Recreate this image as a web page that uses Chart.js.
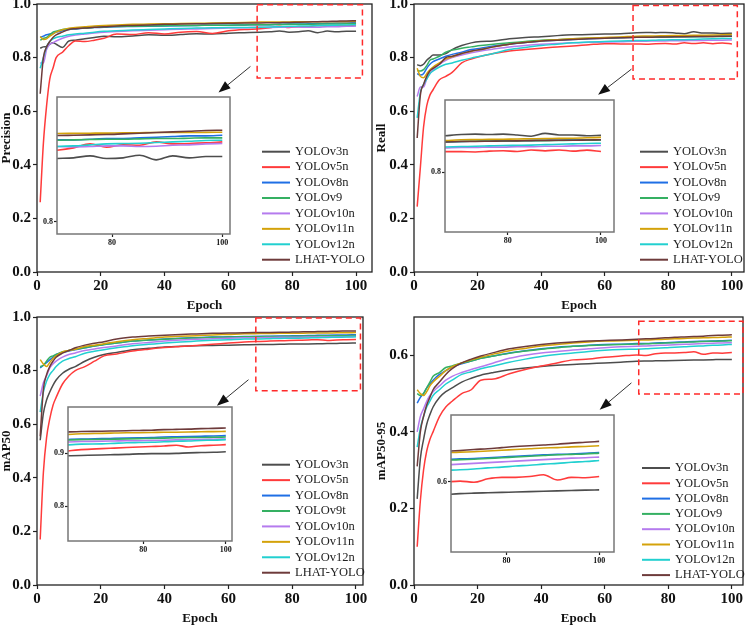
<!DOCTYPE html>
<html>
<head>
<meta charset="utf-8">
<script src="https://cdn.jsdelivr.net/npm/chart.js@4.4.1/dist/chart.umd.min.js"></script>
<style>
  html, body { margin: 0; padding: 0; background: #fff; }
  #wrap { position: relative; width: 750px; height: 626px; overflow: hidden; background: #fff; }
  #wrap canvas { position: absolute; }
</style>
</head>
<body>
<div id="wrap"></div>
<script>
const epochs = [1,2,3,4,5,6,8,10,12,15,18,21,25,30,35,40,45,50,55,60,65,70,73,76,79,82,85,88,91,94,97,100];

const labelsA = ['YOLOv3n','YOLOv5n','YOLOv8n','YOLOv9','YOLOv10n','YOLOv11n','YOLOv12n','LHAT-YOLO'];
const labelsB = ['YOLOv3n','YOLOv5n','YOLOv8n','YOLOv9t','YOLOv10n','YOLOv11n','YOLOv12n','LHAT-YOLO'];
const colors = ['#4d4d4d','#ff3b3b','#1f6fe5','#35b062','#b57bee','#d4a20a','#22d0d0','#6e3b3b'];

const xTicks = [0,20,40,60,80,100];
const yTicksFull = [0,0.2,0.4,0.6,0.8,1.0];
const yTicksLow = [0,0.2,0.4,0.6];
const insetXTicks = [80,100];

// Precision
const precV3n  = [0.835,0.840,0.842,0.850,0.855,0.850,0.838,0.862,0.865,0.870,0.875,0.880,0.878,0.881,0.885,0.883,0.886,0.889,0.888,0.891,0.893,0.895,0.896,0.899,0.895,0.896,0.900,0.893,0.899,0.896,0.898,0.898];
const precV5n  = [0.260,0.480,0.620,0.720,0.760,0.800,0.820,0.845,0.862,0.860,0.865,0.872,0.888,0.886,0.893,0.888,0.895,0.897,0.890,0.900,0.905,0.9075,0.911,0.917,0.912,0.9155,0.915,0.920,0.917,0.9175,0.9185,0.920];
const precV8n  = [0.875,0.880,0.885,0.888,0.890,0.895,0.900,0.905,0.907,0.910,0.912,0.913,0.915,0.916,0.917,0.918,0.919,0.920,0.921,0.921,0.922,0.923,0.923,0.924,0.925,0.925,0.926,0.927,0.928,0.929,0.929,0.930];
const precV9   = [0.865,0.872,0.875,0.885,0.895,0.898,0.905,0.907,0.909,0.910,0.913,0.915,0.916,0.917,0.918,0.919,0.920,0.920,0.921,0.921,0.922,0.9225,0.923,0.9235,0.924,0.924,0.9245,0.925,0.925,0.9255,0.926,0.926];
const precV10n = [0.780,0.780,0.830,0.850,0.855,0.862,0.872,0.880,0.884,0.888,0.892,0.895,0.897,0.900,0.902,0.904,0.906,0.907,0.909,0.910,0.911,0.913,0.9125,0.913,0.914,0.914,0.913,0.9135,0.915,0.9155,0.917,0.9175];
const precV11n = [0.879,0.868,0.870,0.880,0.888,0.895,0.904,0.910,0.912,0.915,0.918,0.920,0.922,0.924,0.925,0.926,0.927,0.928,0.929,0.930,0.931,0.9325,0.9328,0.933,0.9332,0.9335,0.9337,0.934,0.934,0.934,0.9342,0.9345];
const precV12n = [0.760,0.800,0.840,0.860,0.870,0.875,0.880,0.885,0.888,0.891,0.895,0.898,0.900,0.903,0.905,0.907,0.909,0.910,0.911,0.912,0.912,0.913,0.914,0.9155,0.917,0.9175,0.918,0.919,0.920,0.921,0.922,0.9225];
const precLhat = [0.665,0.800,0.840,0.860,0.875,0.885,0.895,0.905,0.908,0.910,0.913,0.915,0.918,0.920,0.922,0.924,0.925,0.926,0.927,0.928,0.929,0.9295,0.930,0.9305,0.931,0.932,0.933,0.934,0.935,0.936,0.937,0.9375];

// Recall
const recV3n  = [0.773,0.770,0.775,0.790,0.800,0.810,0.810,0.815,0.830,0.845,0.855,0.860,0.862,0.870,0.875,0.878,0.882,0.885,0.886,0.888,0.889,0.893,0.894,0.893,0.894,0.892,0.889,0.896,0.892,0.892,0.890,0.891];
const recV5n  = [0.244,0.390,0.540,0.620,0.660,0.680,0.717,0.730,0.745,0.780,0.795,0.805,0.815,0.825,0.830,0.835,0.840,0.843,0.848,0.852,0.851,0.8507,0.850,0.852,0.853,0.851,0.855,0.8527,0.855,0.852,0.8545,0.851];
const recV8n  = [0.740,0.735,0.740,0.760,0.775,0.785,0.795,0.805,0.812,0.820,0.830,0.835,0.843,0.850,0.856,0.862,0.865,0.868,0.870,0.872,0.874,0.876,0.8765,0.877,0.8775,0.878,0.8785,0.879,0.879,0.8795,0.880,0.880];
const recV9   = [0.752,0.750,0.755,0.770,0.790,0.795,0.805,0.820,0.828,0.835,0.840,0.845,0.850,0.855,0.860,0.865,0.867,0.870,0.872,0.873,0.875,0.876,0.8765,0.877,0.877,0.8775,0.878,0.878,0.8785,0.879,0.879,0.8795];
const recV10n = [0.655,0.690,0.690,0.720,0.740,0.755,0.775,0.790,0.800,0.810,0.818,0.825,0.832,0.840,0.845,0.850,0.853,0.855,0.857,0.858,0.859,0.861,0.861,0.862,0.862,0.863,0.863,0.864,0.864,0.865,0.865,0.866];
const recV11n = [0.760,0.730,0.725,0.740,0.755,0.765,0.780,0.795,0.803,0.815,0.823,0.830,0.840,0.850,0.857,0.863,0.867,0.870,0.873,0.875,0.877,0.880,0.8805,0.881,0.8815,0.882,0.8825,0.883,0.8835,0.884,0.885,0.886];
const recV12n = [0.575,0.670,0.700,0.720,0.740,0.750,0.765,0.775,0.780,0.790,0.798,0.805,0.815,0.830,0.838,0.845,0.850,0.855,0.858,0.860,0.862,0.8634,0.864,0.865,0.866,0.8665,0.867,0.868,0.869,0.870,0.871,0.8716];
const recLhat = [0.500,0.660,0.700,0.730,0.750,0.760,0.775,0.800,0.805,0.815,0.825,0.830,0.840,0.850,0.856,0.862,0.865,0.868,0.870,0.872,0.874,0.8757,0.876,0.8765,0.877,0.8775,0.878,0.8785,0.879,0.879,0.8795,0.880];

// mAP50
const mapV3n  = [0.540,0.640,0.690,0.720,0.745,0.765,0.790,0.805,0.815,0.835,0.850,0.860,0.868,0.878,0.883,0.888,0.891,0.893,0.894,0.895,0.896,0.897,0.8975,0.898,0.899,0.8995,0.8995,0.900,0.901,0.9015,0.902,0.903];
const mapV5n  = [0.170,0.420,0.550,0.620,0.670,0.700,0.750,0.780,0.800,0.815,0.835,0.855,0.862,0.873,0.880,0.886,0.890,0.894,0.898,0.903,0.907,0.909,0.910,0.911,0.912,0.913,0.914,0.9155,0.912,0.9145,0.9155,0.9165];
const mapV8n  = [0.810,0.820,0.830,0.840,0.850,0.860,0.868,0.873,0.878,0.885,0.892,0.897,0.903,0.910,0.914,0.918,0.921,0.923,0.925,0.926,0.927,0.928,0.9285,0.929,0.9295,0.930,0.931,0.9315,0.932,0.9325,0.933,0.9336];
const mapV9   = [0.815,0.820,0.835,0.850,0.855,0.860,0.870,0.875,0.880,0.885,0.892,0.897,0.903,0.910,0.914,0.917,0.920,0.922,0.924,0.925,0.926,0.9265,0.927,0.9275,0.928,0.9285,0.929,0.9295,0.930,0.930,0.9305,0.9311];
const mapV10n = [0.705,0.755,0.780,0.810,0.825,0.835,0.850,0.860,0.866,0.875,0.881,0.886,0.892,0.900,0.905,0.910,0.914,0.917,0.919,0.921,0.9225,0.923,0.9235,0.924,0.924,0.9245,0.925,0.9255,0.926,0.9262,0.9267,0.9273];
const mapV11n = [0.841,0.825,0.815,0.830,0.845,0.855,0.870,0.875,0.880,0.890,0.895,0.900,0.908,0.915,0.920,0.925,0.928,0.930,0.933,0.935,0.9372,0.938,0.9385,0.939,0.9392,0.9395,0.940,0.9402,0.9405,0.941,0.9413,0.9417];
const mapV12n = [0.645,0.720,0.760,0.785,0.800,0.815,0.835,0.845,0.852,0.865,0.872,0.878,0.885,0.893,0.898,0.903,0.907,0.910,0.913,0.915,0.9175,0.918,0.919,0.920,0.9205,0.921,0.922,0.923,0.9235,0.9245,0.925,0.926];
const mapLhat = [0.555,0.730,0.785,0.815,0.835,0.850,0.865,0.875,0.885,0.895,0.902,0.908,0.918,0.925,0.929,0.932,0.935,0.937,0.939,0.940,0.9415,0.942,0.9425,0.943,0.9435,0.944,0.945,0.9455,0.946,0.947,0.9475,0.9482];

// mAP50-95
const mapbV3n  = [0.225,0.330,0.380,0.420,0.445,0.465,0.490,0.505,0.515,0.530,0.540,0.548,0.555,0.562,0.567,0.571,0.574,0.576,0.578,0.580,0.582,0.5843,0.585,0.5855,0.586,0.5865,0.587,0.5875,0.588,0.5885,0.589,0.5893];
const mapbV5n  = [0.100,0.220,0.300,0.350,0.380,0.400,0.440,0.465,0.480,0.500,0.510,0.535,0.538,0.552,0.563,0.572,0.580,0.588,0.590,0.595,0.598,0.601,0.5995,0.604,0.606,0.606,0.607,0.6095,0.6025,0.606,0.6055,0.607];
const mapbV8n  = [0.475,0.490,0.500,0.515,0.525,0.535,0.550,0.560,0.570,0.578,0.585,0.592,0.598,0.606,0.612,0.617,0.621,0.6235,0.626,0.628,0.629,0.6305,0.631,0.632,0.633,0.634,0.635,0.636,0.6365,0.637,0.638,0.639];
const mapbV9   = [0.500,0.495,0.500,0.515,0.530,0.545,0.555,0.568,0.572,0.580,0.585,0.592,0.598,0.605,0.611,0.616,0.620,0.6235,0.6255,0.627,0.628,0.6295,0.630,0.631,0.632,0.633,0.634,0.635,0.636,0.6365,0.637,0.6382];
const mapbV10n = [0.400,0.440,0.460,0.480,0.495,0.505,0.520,0.535,0.545,0.555,0.563,0.570,0.580,0.592,0.600,0.606,0.610,0.614,0.617,0.620,0.622,0.6235,0.6245,0.6255,0.6265,0.6275,0.6285,0.6295,0.6305,0.6315,0.632,0.6329];
const mapbV11n = [0.510,0.500,0.495,0.505,0.520,0.530,0.545,0.560,0.570,0.580,0.588,0.595,0.603,0.612,0.618,0.624,0.628,0.632,0.635,0.637,0.638,0.6395,0.640,0.641,0.642,0.643,0.644,0.645,0.6455,0.6465,0.647,0.648];
const mapbV12n = [0.360,0.410,0.440,0.465,0.480,0.495,0.510,0.525,0.535,0.550,0.557,0.565,0.572,0.582,0.590,0.597,0.602,0.606,0.610,0.613,0.615,0.616,0.617,0.6185,0.6195,0.621,0.622,0.6235,0.6245,0.626,0.627,0.6284];
const mapbLhat = [0.310,0.400,0.440,0.470,0.490,0.510,0.530,0.550,0.565,0.580,0.590,0.598,0.607,0.617,0.623,0.628,0.632,0.635,0.637,0.6385,0.640,0.6417,0.643,0.644,0.6455,0.647,0.648,0.649,0.650,0.6515,0.6525,0.6537];

const SERIF = '"Liberation Serif", "Times New Roman", serif';
const PAD = 16;
const wrap = document.getElementById('wrap');

const panels = [
  { title: 'Precision', labels: labelsA, yMax: 1, yTicks: yTicksFull, xMax: 105,
    series: [precV3n, precV5n, precV8n, precV9, precV10n, precV11n, precV12n, precLhat],
    area: {l: 37, r: 372, t: 4, b: 272}, titleX: 7, titleY: 305,
    box: {x: [69, 102], y: [0.724, 0.997]}, arrow: [[66.9, 0.767], [56.9, 0.67]],
    legend: {x: 262, y: 151.7, dy: 15.43},
    inset: {area: {l: 57, r: 230, t: 97, b: 234}, x: [70, 101.4], y: [0.7816, 0.9874], yTicks: [0.8]} },
  { title: 'Reall', labels: labelsA, yMax: 1, yTicks: yTicksFull, xMax: 103.8,
    series: [recV3n, recV5n, recV8n, recV9, recV10n, recV11n, recV12n, recLhat],
    area: {l: 414, r: 744, t: 4, b: 272}, titleX: 382, titleY: 305,
    box: {x: [68.9, 101.7], y: [0.72, 0.994]}, arrow: [[68.4, 0.757], [57.9, 0.661]],
    legend: {x: 640, y: 151.7, dy: 15.43},
    inset: {area: {l: 445, r: 614, t: 100, b: 232}, x: [66.5, 102.8], y: [0.652, 0.9785], yTicks: [0.8]} },
  { title: 'mAP50', labels: labelsB, yMax: 1, yTicks: yTicksFull, xMax: 102.2,
    series: [mapV3n, mapV5n, mapV8n, mapV9, mapV10n, mapV11n, mapV12n, mapLhat],
    area: {l: 37, r: 363, t: 317, b: 585}, titleX: 7, titleY: 618,
    box: {x: [68.6, 101.4], y: [0.725, 0.996]}, arrow: [[66.3, 0.766], [56.4, 0.669]],
    legend: {x: 262, y: 464.7, dy: 15.43},
    inset: {area: {l: 68, r: 232, t: 407, b: 541}, x: [61.8, 101.5], y: [0.7336, 0.988], yTicks: [0.8, 0.9]} },
  { title: 'mAP50-95', labels: labelsA, yMax: 0.7, yTicks: yTicksLow, xMax: 103.5,
    series: [mapbV3n, mapbV5n, mapbV8n, mapbV9, mapbV10n, mapbV11n, mapbV12n, mapbLhat],
    area: {l: 414, r: 743, t: 317, b: 585}, titleX: 382, titleY: 618,
    box: {x: [70.7, 103.5], y: [0.499, 0.689]}, arrow: [[68.4, 0.528], [58.4, 0.458]],
    legend: {x: 642, y: 468, dy: 15.3},
    inset: {area: {l: 451, r: 614, t: 415, b: 552}, x: [68.05, 103.2], y: [0.5068, 0.6888], yTicks: [0.6]} }
];

const decor = {
  id: 'decor',
  beforeDraw(chart, args, o) {
    if (!o.white) return;
    const a = chart.chartArea, ctx = chart.ctx;
    ctx.save();
    ctx.fillStyle = '#fff';
    ctx.fillRect(a.left, a.top, a.width, a.height);
    ctx.restore();
  },
  afterDatasetsDraw(chart, args, o) {
    const ctx = chart.ctx, a = chart.chartArea;
    const sx = chart.scales.x, sy = chart.scales.y;
    ctx.save();
    ctx.strokeStyle = o.frame;
    ctx.lineWidth = o.frameWidth;
    ctx.strokeRect(a.left, a.top, a.width, a.height);

    if (o.box) {
      const x1 = sx.getPixelForValue(o.box.x[0]), x2 = sx.getPixelForValue(o.box.x[1]);
      const y1 = sy.getPixelForValue(o.box.y[1]), y2 = sy.getPixelForValue(o.box.y[0]);
      ctx.strokeStyle = '#ff2a2a';
      ctx.lineWidth = 1.5;
      ctx.setLineDash([6, 4]);
      ctx.strokeRect(x1, y1, x2 - x1, y2 - y1);
      ctx.setLineDash([]);
    }

    if (o.arrow) {
      const [p, q] = o.arrow.map(([vx, vy]) => [sx.getPixelForValue(vx), sy.getPixelForValue(vy)]);
      const ang = Math.atan2(q[1] - p[1], q[0] - p[0]);
      const L = 12, W = 4.5;
      const bx = q[0] - L * Math.cos(ang), by = q[1] - L * Math.sin(ang);
      ctx.strokeStyle = '#333';
      ctx.lineWidth = 1;
      ctx.beginPath(); ctx.moveTo(p[0], p[1]); ctx.lineTo(bx, by); ctx.stroke();
      ctx.fillStyle = '#111';
      ctx.beginPath();
      ctx.moveTo(q[0], q[1]);
      ctx.lineTo(bx + W * Math.sin(ang), by - W * Math.cos(ang));
      ctx.lineTo(bx - W * Math.sin(ang), by + W * Math.cos(ang));
      ctx.closePath(); ctx.fill();
    }

    if (o.legend) {
      const lg = o.legend;
      ctx.font = '12.5px ' + SERIF;
      ctx.textBaseline = 'middle';
      chart.data.datasets.forEach((d, i) => {
        const y = lg.y + i * lg.dy - o.y0;
        const x = lg.x - o.x0;
        ctx.strokeStyle = d.borderColor;
        ctx.lineWidth = 2;
        ctx.beginPath(); ctx.moveTo(x, y); ctx.lineTo(x + 28, y); ctx.stroke();
        ctx.fillStyle = '#222';
        ctx.fillText(d.label, x + 33, y);
      });
    }
    ctx.restore();
  }
};

function addCanvas(area, yw, xh) {
  const x0 = area.l - yw - PAD, y0 = area.t - PAD;
  const c = document.createElement('canvas');
  c.width = area.r + PAD - x0;
  c.height = area.b + xh + PAD - y0;
  c.style.left = x0 + 'px';
  c.style.top = y0 + 'px';
  c.style.width = c.width + 'px';
  c.style.height = c.height + 'px';
  wrap.appendChild(c);
  return {c, x0, y0};
}

function fixedTicks(list) {
  return s => { s.ticks = list.map(v => ({value: v})); };
}

function makeDatasets(p, width) {
  return p.series.map((vals, i) => ({
    label: p.labels[i],
    data: vals.map((v, k) => ({x: epochs[k], y: v})),
    borderColor: colors[i],
    borderWidth: width,
    pointRadius: 0,
    fill: false,
    cubicInterpolationMode: 'monotone',
    order: p.series.length - i
  }));
}

function axisCommon(tickLen, fontSize, yw, xh, isX) {
  return {
    type: 'linear',
    afterFit: s => { if (isX) s.height = xh; else s.width = yw; },
    grid: {display: true, drawOnChartArea: false, drawTicks: true, tickLength: tickLen, tickColor: '#222', tickWidth: 1.2},
    border: {display: false},
    ticks: {font: {family: SERIF, size: fontSize, weight: 'bold'}, color: '#111', padding: 2, maxRotation: 0, autoSkip: false}
  };
}

panels.forEach(p => {
  // main chart
  const lh = 13 * 1.2;
  const yw = Math.round(p.area.l - p.titleX + lh / 2);
  const xh = Math.round(p.titleY - p.area.b + lh / 2);
  const m = addCanvas(p.area, yw, xh);
  const xs = axisCommon(4, 15, yw, xh, true);
  const ys = axisCommon(4, 15, yw, xh, false);
  Object.assign(xs, {min: 0, max: p.xMax, afterBuildTicks: fixedTicks(xTicks),
    title: {display: true, text: 'Epoch', font: {family: SERIF, size: 13, weight: 'bold'}, color: '#111', padding: 0}});
  xs.ticks.callback = v => String(v);
  xs.ticks.padding = 1;
  Object.assign(ys, {min: 0, max: p.yMax, afterBuildTicks: fixedTicks(p.yTicks),
    title: {display: true, text: p.title, font: {family: SERIF, size: 13, weight: 'bold'}, color: '#111', padding: 0}});
  ys.ticks.callback = v => v.toFixed(1);

  new Chart(m.c, {
    type: 'line',
    data: {datasets: makeDatasets(p, 1.5)},
    options: {
      responsive: false, animation: false, devicePixelRatio: 1,
      layout: {padding: PAD},
      scales: {x: xs, y: ys},
      plugins: {
        legend: {display: false}, tooltip: {enabled: false},
        decor: {frame: '#222', frameWidth: 1.3, box: p.box, arrow: p.arrow, legend: p.legend, x0: m.x0, y0: m.y0}
      }
    },
    plugins: [decor]
  });

  // zoomed inset
  const q = p.inset;
  const iyw = 22, ixh = 14;
  const n = addCanvas(q.area, iyw, ixh);
  const ixs = axisCommon(3, 8, iyw, ixh, true);
  const iys = axisCommon(3, 8, iyw, ixh, false);
  Object.assign(ixs, {min: q.x[0], max: q.x[1], afterBuildTicks: fixedTicks(insetXTicks)});
  ixs.ticks.callback = v => String(v);
  ixs.ticks.padding = 1;
  Object.assign(iys, {min: q.y[0], max: q.y[1], afterBuildTicks: fixedTicks(q.yTicks)});
  iys.ticks.callback = v => v.toFixed(1);
  iys.ticks.padding = 1;

  new Chart(n.c, {
    type: 'line',
    data: {datasets: makeDatasets(p, 1.6)},
    options: {
      responsive: false, animation: false, devicePixelRatio: 1,
      layout: {padding: PAD},
      scales: {x: ixs, y: iys},
      plugins: {
        legend: {display: false}, tooltip: {enabled: false},
        decor: {white: true, frame: '#777', frameWidth: 1.5, x0: n.x0, y0: n.y0}
      }
    },
    plugins: [decor]
  });
});
</script>
</body>
</html>
